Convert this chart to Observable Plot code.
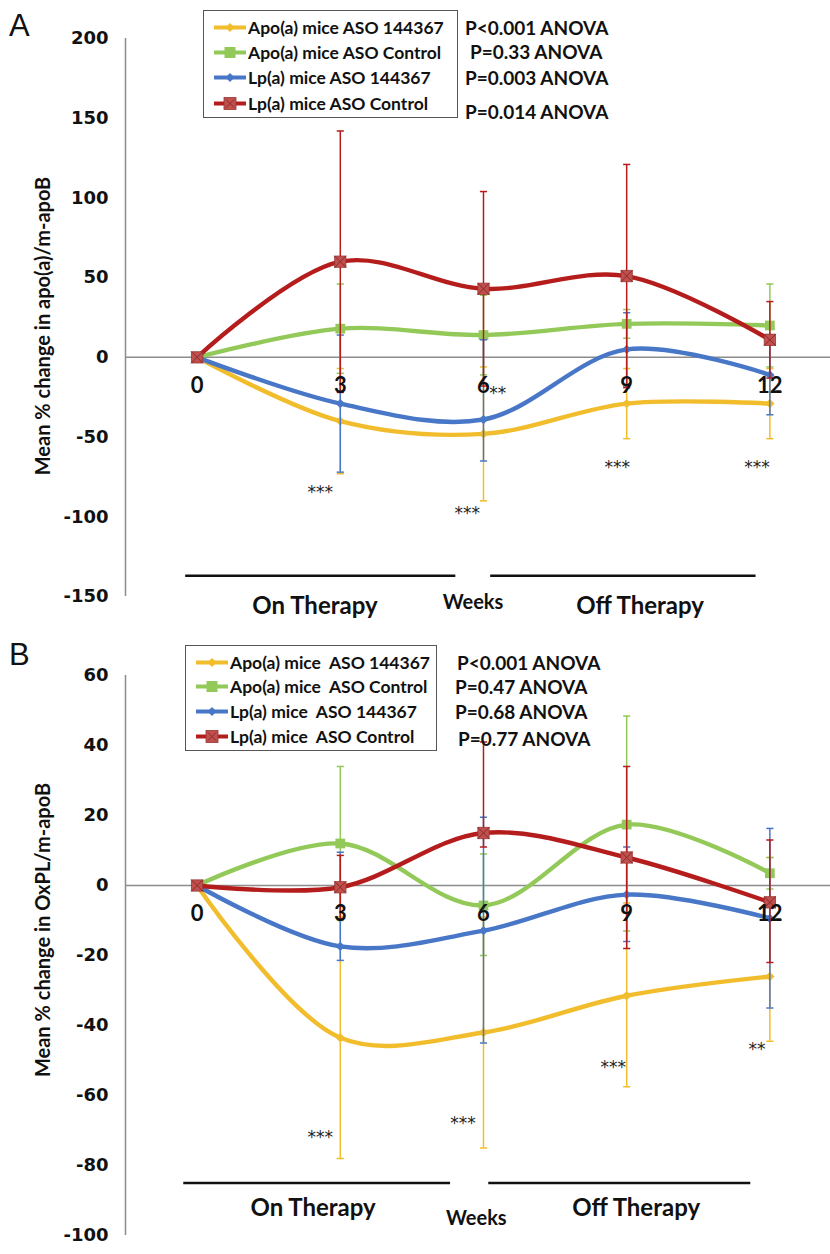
<!DOCTYPE html>
<html><head><meta charset="utf-8">
<script src="https://cdn.jsdelivr.net/npm/d3@7"></script>
<script src="https://cdn.jsdelivr.net/npm/@observablehq/plot@0.6"></script>
<style>
body{margin:0;background:#fff;}
#wrap{position:relative;width:830px;height:1254px;overflow:hidden;font-family:Lato,"Open Sans",sans-serif;color:#111;}
.panel{position:absolute;left:0;width:830px;}
.panel svg{overflow:visible;}
.plabel{position:absolute;font-family:"Liberation Sans",Arial,sans-serif;font-size:31px;}
.ylab{position:absolute;font-weight:bold;font-size:20px;white-space:nowrap;transform:translate(-50%,-50%) rotate(-90deg);}
.legend{position:absolute;border:1.5px solid #555;background:#fff;box-sizing:border-box;}
.lrow{position:absolute;left:10px;display:flex;align-items:center;font-weight:bold;font-size:17.5px;white-space:pre;transform:translateY(-50%);}
.lrow svg{margin-right:1px;}
.pv{position:absolute;font-weight:bold;font-size:19px;white-space:pre;transform:translateY(-50%);}
</style>
</head><body>
<div id="wrap"></div>
<script>
// ---------- data ----------
const weeks = [0, 3, 6, 9, 12];
const seriesNamesA = ["Apo(a) mice ASO 144367", "Apo(a) mice ASO Control", "Lp(a) mice ASO 144367", "Lp(a) mice ASO Control"];
const seriesNamesB = ["Apo(a) mice  ASO 144367", "Apo(a) mice  ASO Control", "Lp(a) mice  ASO 144367", "Lp(a) mice  ASO Control"];
const pValuesA = ["P<0.001 ANOVA", "P=0.33 ANOVA", "P=0.003 ANOVA", "P=0.014 ANOVA"];
const pValuesB = ["P<0.001 ANOVA", "P=0.47 ANOVA", "P=0.68 ANOVA", "P=0.77 ANOVA"];
const yTicksA = [-150, -100, -50, 0, 50, 100, 150, 200];
const yTicksB = [-100, -80, -60, -40, -20, 0, 20, 40, 60];
const yLabelA = "Mean % change in apo(a)/m-apoB";
const yLabelB = "Mean % change in OxPL/m-apoB";

// Panel A: apo(a)/m-apoB
const aApoASO     = [0, -40, -48, -29, -29];
const aApoASOLo   = [0, -73, -90, -51, -51];
const aApoASOHi   = [0, -7, -6, -7, -7];
const aApoCtrl    = [0, 18, 14, 21, 20];
const aApoCtrlLo  = [0, -10, -11, 12, -6];
const aApoCtrlHi  = [0, 46, 39, 30, 46];
const aLpASO      = [0, -29, -39, 5, -11];
const aLpASOLo    = [0, -72, -65, -18, -36];
const aLpASOHi    = [0, 14, 11, 28, 14];
const aLpCtrl     = [0, 60, 43, 51, 11];
const aLpCtrlLo   = [0, -22, -18, -19, -13];
const aLpCtrlHi   = [0, 142, 104, 121, 35];

// Panel B: OxPL/m-apoB
const bApoASO     = [0, -43.5, -42, -31.5, -26];
const bApoASOLo   = [0, -78, -75, -57.5, -44.5];
const bApoASOHi   = [0, -9, -9, -5, 8];
const bApoCtrl    = [0, 12, -5.7, 17.4, 3.5];
const bApoCtrlLo  = [0, -10, -20, -13, -1];
const bApoCtrlHi  = [0, 34, 9, 48.4, 8];
const bLpASO      = [0, -17.4, -12.9, -2.6, -9.4];
const bLpASOLo    = [0, -21.4, -45, -16, -35];
const bLpASOHi    = [0, 9.5, 19.5, 11, 16.3];
const bLpCtrl     = [0, -0.5, 15, 8, -4.8];
const bLpCtrlLo   = [0, -9.6, 11, -18, -22];
const bLpCtrlHi   = [0, 8.6, 41, 34, 13];

// significance annotations (week, value, label)
const starsA = [[2.58, -85, "***"], [5.66, -98, "***"], [6.3, -23, "**"], [8.8, -69, "***"], [11.73, -69, "***"]];
const starsB = [[2.58, -72, "***"], [5.57, -68, "***"], [8.72, -52, "***"], [11.73, -47, "**"]];
// therapy period bars (week from, week to, value) and labels (week, value, text)
const barsA = [[-0.25, 5.41, -137], [6.14, 11.7, -137]];
const barLabelsA = [[2.47, -156, "On Therapy"], [9.28, -156, "Off Therapy"]];
const weeksLabelA = [[5.78, -154, "Weeks"]];
const barsB = [[-0.29, 5.3, -85], [6.1, 11.59, -85]];
const barLabelsB = [[2.43, -92.3, "On Therapy"], [9.2, -92.3, "Off Therapy"]];
const weeksLabelB = [[5.85, -95.3, "Weeks"]];

// ---------- styles ----------
const styles = [
  {color: "#f2bd2c", symbol: "diamond2", r: 4.2, fill: "#f2bd2c", x: false},
  {color: "#93c958", symbol: "square2", r: 6.2, fill: "#93c958", x: false},
  {color: "#4877c8", symbol: "diamond2", r: 4.2, fill: "#4877c8", x: false},
  {color: "#b51d1d", symbol: "square2", r: 7.2, fill: "#c0504d", x: true}
];

function rows(vals, lo, hi, s) {
  return weeks.map((w, i) => ({week: w, v: vals[i], lo: lo[i], hi: hi[i], s}));
}
const dataA = [
  rows(aApoASO, aApoASOLo, aApoASOHi, 0),
  rows(aApoCtrl, aApoCtrlLo, aApoCtrlHi, 1),
  rows(aLpASO, aLpASOLo, aLpASOHi, 2),
  rows(aLpCtrl, aLpCtrlLo, aLpCtrlHi, 3)
];
const dataB = [
  rows(bApoASO, bApoASOLo, bApoASOHi, 0),
  rows(bApoCtrl, bApoCtrlLo, bApoCtrlHi, 1),
  rows(bLpASO, bLpASOLo, bLpASOHi, 2),
  rows(bLpCtrl, bLpCtrlLo, bLpCtrlHi, 3)
];

const xDomain = [-1.5, 13.27];
const capHalf = 0.075;

function panel(data, yDomain, yTicks, cfg) {
  const marks = [];
  marks.push(Plot.ruleX([xDomain[0]], {y1: yDomain[0], y2: yDomain[1], stroke: "#8c8c8c", strokeWidth: 1.5}));
  marks.push(Plot.ruleY([0], {stroke: "#8c8c8c", strokeWidth: 1.5}));
  marks.push(Plot.axisY({ticks: yTicks, tickFormat: d => String(d), tickSize: 0, tickPadding: 17, fontSize: 18, fontWeight: "bold", fontFamily: "DejaVu Sans", label: null}));
  for (const ser of data) {
    const st = styles[ser[0].s];
    const eb = ser.filter(d => d.week !== 0);
    marks.push(Plot.ruleX(eb, {x: "week", y1: "lo", y2: "hi", stroke: st.color, strokeWidth: 1.5}));
    marks.push(Plot.link(eb, {x1: d => d.week - capHalf, x2: d => d.week + capHalf, y1: "lo", y2: "lo", stroke: st.color, strokeWidth: 1.5}));
    marks.push(Plot.link(eb, {x1: d => d.week - capHalf, x2: d => d.week + capHalf, y1: "hi", y2: "hi", stroke: st.color, strokeWidth: 1.5}));
    marks.push(Plot.line(ser, {x: "week", y: "v", stroke: st.color, strokeWidth: 4.4, curve: "catmull-rom"}));
    marks.push(Plot.dot(ser, {x: "week", y: "v", symbol: st.symbol, r: st.r, fill: st.fill, stroke: st.x ? "#9a3432" : "none", strokeWidth: 0.8}));
    if (st.x) marks.push(Plot.dot(ser, {x: "week", y: "v", symbol: "times", r: 5.5, stroke: "#8a2a28", strokeWidth: 1}));
  }
  marks.push(Plot.text(weeks, {x: d => d, y: 0, dy: cfg.xLabelDy, text: d => String(d), fontSize: 22, fontWeight: "bold", fontFamily: "Lato", fill: "#111"}));
  marks.push(Plot.text(cfg.stars, {x: d => d[0], y: d => d[1], text: d => d[2], fontSize: 17, fontFamily: "DejaVu Sans", fill: "#222"}));
  marks.push(Plot.link(cfg.bars, {x1: d => d[0], x2: d => d[1], y1: d => d[2], y2: d => d[2], stroke: "#111", strokeWidth: 2.5}));
  marks.push(Plot.text(cfg.barLabels, {x: d => d[0], y: d => d[1], text: d => d[2], fontSize: 24, fontWeight: "bold", fontFamily: "Lato", fill: "#111"}));
  marks.push(Plot.text(cfg.weeksLabel, {x: d => d[0], y: d => d[1], text: d => d[2], fontSize: 20, fontWeight: "bold", fontFamily: "Lato", fill: "#111"}));
  return Plot.plot({
    width: 830, height: cfg.height,
    marginLeft: 125, marginRight: 0, marginTop: cfg.mt, marginBottom: cfg.mb,
    x: {domain: xDomain, axis: null},
    y: {domain: yDomain},
    style: {background: "transparent", overflow: "visible"},
    marks
  });
}

const wrap = document.getElementById("wrap");
function addDiv(cls, css, html) {
  const d = document.createElement("div");
  d.className = cls; Object.assign(d.style, css); d.innerHTML = html; wrap.appendChild(d); return d;
}

const pA = addDiv("panel", {top: "0px"}, "");
pA.appendChild(panel(dataA, [-150, 200], yTicksA, {height: 627, mt: 38, mb: 31, xLabelDy: 29, stars: starsA, bars: barsA, barLabels: barLabelsA, weeksLabel: weeksLabelA}));
const pB = addDiv("panel", {top: "627px"}, "");
pB.appendChild(panel(dataB, [-100, 60], yTicksB, {height: 627, mt: 48, mb: 19, xLabelDy: 28, stars: starsB, bars: barsB, barLabels: barLabelsB, weeksLabel: weeksLabelB}));

addDiv("plabel", {left: "9px", top: "8px"}, "A");
addDiv("plabel", {left: "9px", top: "637px"}, "B");
addDiv("ylab", {left: "42px", top: "326px"}, yLabelA);
addDiv("ylab", {left: "42px", top: "930px"}, yLabelB);

function swatch(st) {
  const sz = 14;
  let m = "";
  if (st.symbol === "diamond2") m = `<path d="M16,${7-4.5}L20.5,7L16,${7+4.5}L11.5,7Z" fill="${st.fill}"/>`;
  else if (!st.x) m = `<rect x="10.5" y="1.5" width="11" height="11" fill="${st.fill}"/>`;
  else m = `<rect x="10" y="1" width="12" height="12" fill="${st.fill}" stroke="#9a3432" stroke-width="0.8"/><path d="M12,3L20,11M20,3L12,11" stroke="#8a2a28" stroke-width="1"/>`;
  return `<svg width="33" height="${sz}"><line x1="0" x2="32" y1="7" y2="7" stroke="${st.color}" stroke-width="4"/>${m}</svg>`;
}
function legend(left, top, w, h, names, rowsY) {
  const lg = addDiv("legend", {left: left + "px", top: top + "px", width: w + "px", height: h + "px"}, "");
  names.forEach((n, i) => {
    const r = document.createElement("div");
    r.className = "lrow"; r.style.top = rowsY[i] + "px";
    r.innerHTML = swatch(styles[i]) + `<span>${n}</span>`;
    lg.appendChild(r);
  });
}
legend(203, 10, 255, 108, seriesNamesA, [16, 41, 66, 92]);
legend(185, 645, 252, 106, seriesNamesB, [16, 40, 65, 90]);

const pvA = [[465, 27], [470, 51], [465, 77], [465, 111]];
pValuesA.forEach((t, i) => addDiv("pv", {left: pvA[i][0] + "px", top: pvA[i][1] + "px"}, t));
const pvB = [[457, 662], [455, 686], [455, 711], [458, 738]];
pValuesB.forEach((t, i) => addDiv("pv", {left: pvB[i][0] + "px", top: pvB[i][1] + "px"}, t));
</script>
</body></html>
